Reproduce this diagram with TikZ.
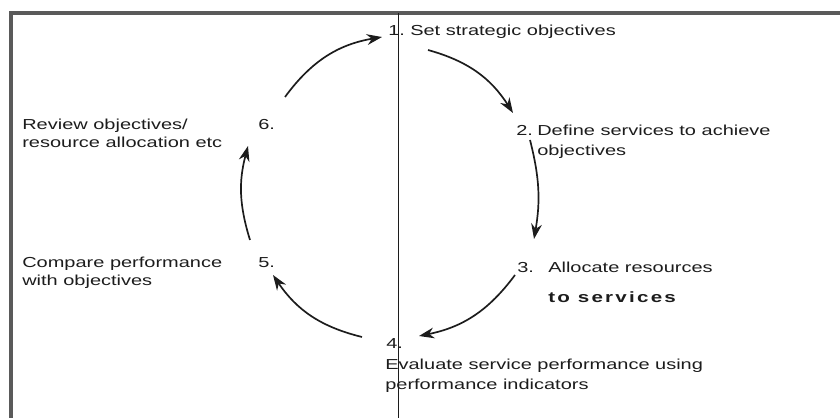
\documentclass[tikz,border=0pt]{standalone}
\usepackage{fontspec}
\setmainfont{Liberation Sans}[FakeStretch=1.38]
\newfontfamily\CycWide{Liberation Sans}[FakeStretch=1.38,LetterSpace=15]
\usetikzlibrary{arrows.meta}
\definecolor{CycDark}{HTML}{1C1C1C}
\definecolor{CycFrame}{HTML}{5A5A5A}
\newcommand{\CycText}{\fontsize{10.3}{13}\selectfont}
\newcommand{\CycBold}{\fontsize{10.6}{13}\CycWide\bfseries}
\tikzset{
  steptext/.style={
    anchor=base west,
    inner sep=0pt,
    text=CycDark,
    font=\CycText
  },
  stepbold/.style={steptext, font=\CycBold},
  stepnum/.style={steptext},
  framerule/.style={
    draw=CycFrame,
    line width=2.2pt
  },
  midrule/.style={
    draw=CycDark,
    line width=0.5pt
  },
  cyclearrow/.style={
    -{Stealth[length=3.8mm,width=2.7mm]},
    draw=CycDark,
    line width=1.2pt,
    bend left=#1
  },
  cyclearrow/.default=20
}

\begin{document}
\begin{tikzpicture}[x=0.025cm,y=-0.025cm]
\path[use as bounding box] (0,0) rectangle (840,418);

\draw[framerule] (11,418) -- (11,13) -- (840,13);
\draw[midrule] (398,13) -- (398,418);

% step numbers
\node[stepnum] (n1) at (388,36) {1.};
\node[stepnum] (n2) at (516,136) {2.};
\node[stepnum] (n3) at (517,273) {3.};
\node[stepnum] (n4) at (386,348) {4.};
\node[stepnum] (n5) at (258,268) {5.};
\node[stepnum] (n6) at (258,130) {6.};

% step texts
\node[steptext] (t1) at (410,36) {Set strategic objectives};
\node[steptext] (t2a) at (537,136) {Define services to achieve};
\node[steptext] (t2b) at (537,156) {objectives};
\node[steptext] (t3a) at (548,273) {Allocate resources};
\node[stepbold] (t3b) at (548,303) {to services};
\node[steptext] (t4a) at (385,369) {Evaluate service performance using};
\node[steptext] (t4b) at (385,389) {performance indicators};
\node[steptext] (t5a) at (22,268) {Compare performance};
\node[steptext] (t5b) at (22,286) {with objectives};
\node[steptext] (t6a) at (22,130) {Review objectives/};
\node[steptext] (t6b) at (22,148) {resource allocation etc};

% arrow ends on the cycle
\coordinate (c61s) at (285,97);
\coordinate (c61e) at (382,37);
\coordinate (c12s) at (428,50);
\coordinate (c12e) at (513,113);
\coordinate (c23s) at (530,140);
\coordinate (c23e) at (534,239);
\coordinate (c34s) at (515,275);
\coordinate (c34e) at (419,336);
\coordinate (c45s) at (362,337);
\coordinate (c45e) at (273,275);
\coordinate (c56s) at (250,240);
\coordinate (c56e) at (248,146);

\draw[cyclearrow=22] (c61s) to (c61e);
\draw[cyclearrow=21] (c12s) to (c12e);
\draw[cyclearrow=12] (c23s) to (c23e);
\draw[cyclearrow=21] (c34s) to (c34e);
\draw[cyclearrow=21] (c45s) to (c45e);
\draw[cyclearrow=16] (c56s) to (c56e);

\end{tikzpicture}
\end{document}
